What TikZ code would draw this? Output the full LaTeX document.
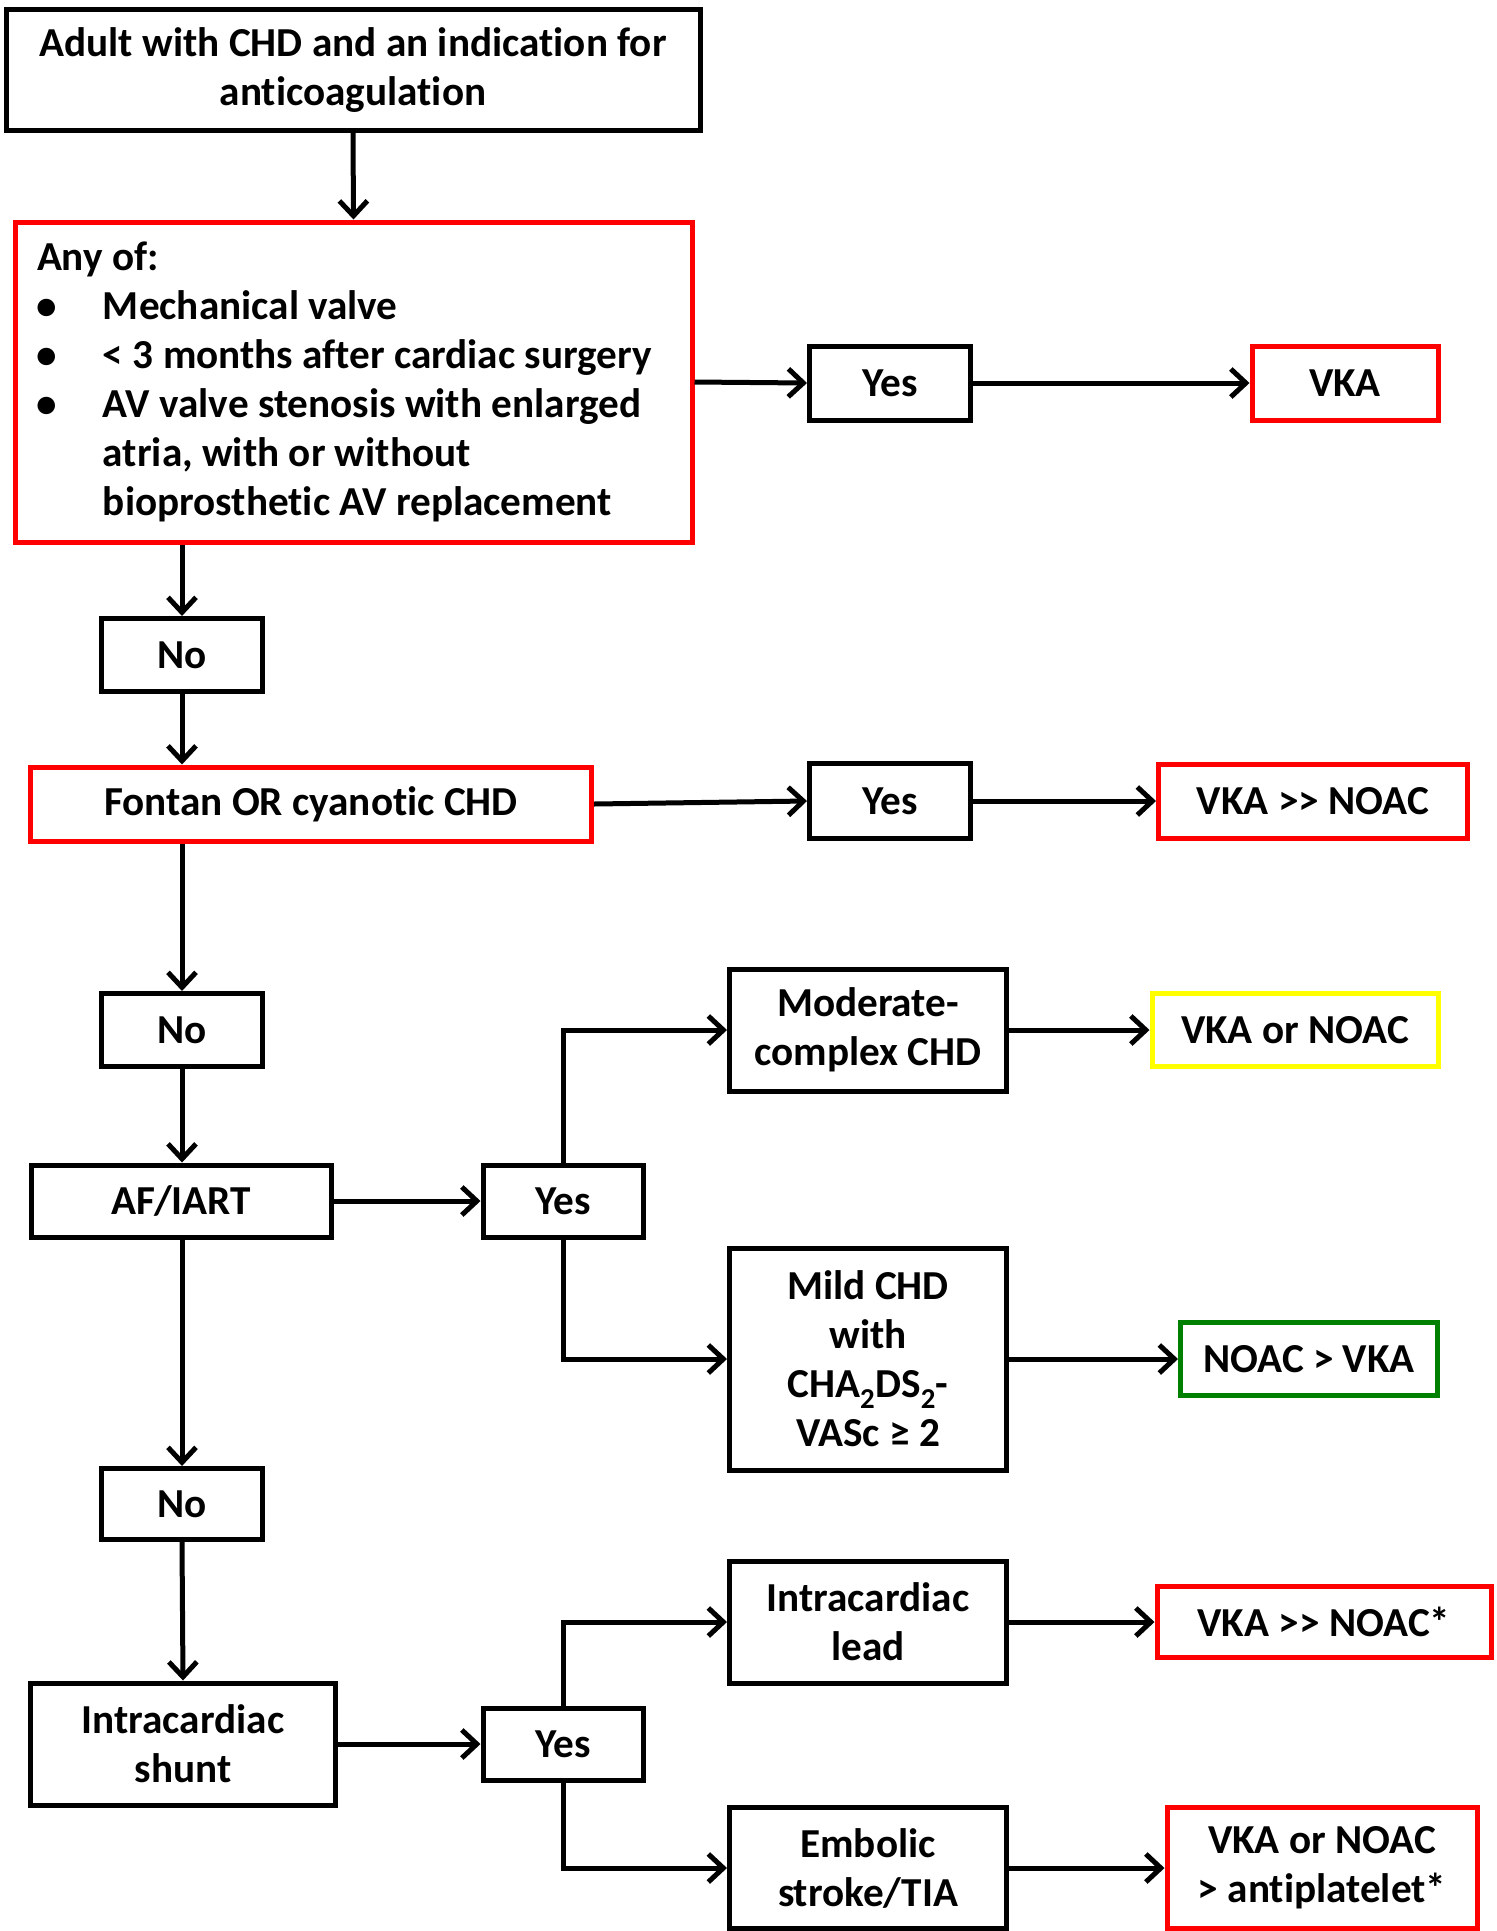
\documentclass[tikz,border=0pt]{standalone}
\usepackage{fontspec}
\setmainfont{Carlito}[Ligatures={NoCommon}]
\usetikzlibrary{arrows.meta}
\definecolor{boxred}{RGB}{255,0,0}
\definecolor{boxyellow}{RGB}{255,255,0}
\definecolor{boxgreen}{RGB}{0,128,0}
\newcommand{\myblt}{\makebox[66pt][l]{\hspace{-1pt}•}}
\begin{document}
\begin{tikzpicture}[x=1pt,y=-1pt,
  box/.style={draw=black, line width=5pt, inner sep=0pt, align=center,
    font=\bfseries\fontsize{41.2}{49}\selectfont},
  redbox/.style={box, draw=boxred},
  yellowbox/.style={box, draw=boxyellow},
  greenbox/.style={box, draw=boxgreen},
  arr/.style={line width=5pt, -{Straight Barb[length=15pt,width=28pt,line width=5pt]}},
]
\useasboundingbox (0,0) rectangle (1497,1931);

\node[box, minimum width=694pt, minimum height=121pt] (b1) at (353,70)
  {Adult with CHD and an indication for\\anticoagulation};
\node[redbox, align=flush left, text width=633pt, inner xsep=22pt, minimum height=320pt] (any) at (353.5,382)
  {Any of:\\
   \myblt Mechanical valve\\
   \myblt < 3 months after cardiac surgery\\
   \myblt AV valve stenosis with enlarged\\
   \hspace*{66pt}atria, with or without\\
   \hspace*{66pt}bioprosthetic AV replacement};
\node[box, minimum width=161pt, minimum height=74pt] (yes1) at (890,383) {Yes};
\node[redbox, minimum width=186pt, minimum height=74pt] (vka1) at (1345,383) {VKA};

\node[box, minimum width=161pt, minimum height=73pt] (no1) at (182,655) {No};
\node[redbox, minimum width=561pt, minimum height=74pt] (fontan) at (311,804) {Fontan OR cyanotic CHD};
\node[box, minimum width=161pt, minimum height=75pt] (yes2) at (890,801) {Yes};
\node[redbox, minimum width=309pt, minimum height=74pt] (vka2) at (1313,801) {VKA >{}> NOAC};

\node[box, minimum width=161pt, minimum height=73pt] (no2) at (182,1030) {No};
\node[box, minimum width=300pt, minimum height=72pt] (af) at (181,1201) {AF/IART};
\node[box, minimum width=160pt, minimum height=72pt] (yes3) at (563,1201) {Yes};
\node[box, minimum width=277pt, minimum height=122pt] (mod) at (868,1030) {Moderate-\\complex CHD};
\node[yellowbox, minimum width=286pt, minimum height=73pt] (vkanoac) at (1295,1030) {VKA or NOAC};
\node[box, minimum width=277pt, minimum height=222pt] (mild) at (868,1359)
  {Mild CHD\\with\\CHA\textsubscript{2}DS\textsubscript{2}-\\VASc ≥ 2};
\node[greenbox, minimum width=257pt, minimum height=73pt] (noacvka) at (1309,1359) {NOAC > VKA};

\node[box, minimum width=161pt, minimum height=71pt] (no3) at (182,1504) {No};
\node[box, minimum width=305pt, minimum height=122pt] (shunt) at (183,1744) {Intracardiac\\shunt};
\node[box, minimum width=160pt, minimum height=72pt] (yes4) at (563,1744) {Yes};
\node[box, minimum width=277pt, minimum height=122pt] (lead) at (868,1622) {Intracardiac\\lead};
\node[redbox, minimum width=334pt, minimum height=71pt] (vka3) at (1324,1622) {VKA >{}> NOAC*};
\node[box, minimum width=277pt, minimum height=121pt] (emb) at (868,1868) {Embolic\\stroke/TIA};
\node[redbox, minimum width=310pt, minimum height=121pt] (vka4) at (1322,1868) {VKA or NOAC\\> antiplatelet*};

\draw[arr] (b1.south) -- (any.north);
\draw[arr] (any.east) -- (yes1.west);
\draw[arr] (yes1.east) -- (vka1.west);
\draw[arr] (any.south -| no1.north) -- (no1.north);
\draw[arr] (no1.south) -- (fontan.north -| no1.south);
\draw[arr] (fontan.east) -- (yes2.west);
\draw[arr] (yes2.east) -- (vka2.west);
\draw[arr] (fontan.south -| no2.north) -- (no2.north);
\draw[arr] (no2.south) -- (af.north -| no2.south);
\draw[arr] (af.east) -- (yes3.west);
\draw[arr] (yes3.north) |- (mod.west);
\draw[arr] (yes3.south) |- (mild.west);
\draw[arr] (mod.east) -- (vkanoac.west);
\draw[arr] (mild.east) -- (noacvka.west);
\draw[arr] (af.south -| no3.north) -- (no3.north);
\draw[arr] (no3.south) -- (shunt.north);
\draw[arr] (shunt.east) -- (yes4.west);
\draw[arr] (yes4.north) |- (lead.west);
\draw[arr] (yes4.south) |- (emb.west);
\draw[arr] (lead.east) -- (vka3.west);
\draw[arr] (emb.east) -- (vka4.west);
\end{tikzpicture}
\end{document}
